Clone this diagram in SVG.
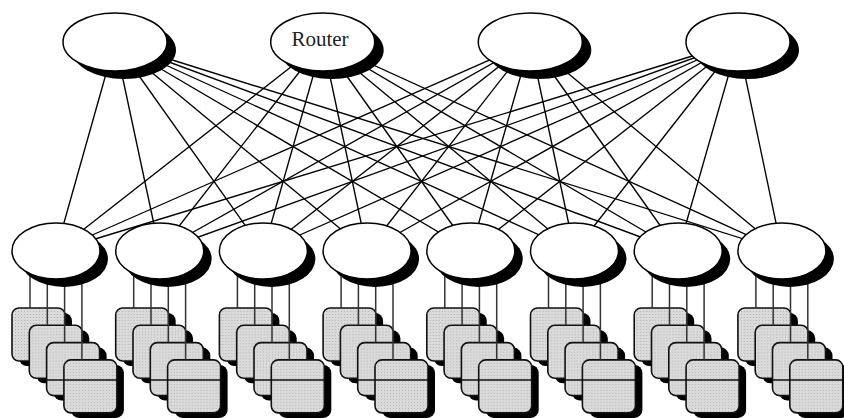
<svg xmlns="http://www.w3.org/2000/svg" width="844" height="418" viewBox="0 0 844 418">
  <style>
    .shadow { fill: #000; stroke: none; }
    .node { fill: #fff; stroke: #000; stroke-width: 1.5; }
    .link { stroke: #000; stroke-width: 1.35; fill: none; }
    .drop { stroke: #333; stroke-width: 1.5; fill: none; }
    .host { fill: url(#stipple); stroke: #111; stroke-width: 1.6; }
    .label { font-family: "Liberation Serif", "Times New Roman", serif; font-size: 21px; fill: #222; }
  </style>
  <defs>
    <!-- light grey dotted fill for the host boxes -->
    <pattern id="stipple" width="3" height="3" patternUnits="userSpaceOnUse">
      <rect width="3" height="3" fill="#dadada"/>
      <rect width="1" height="1" fill="#b4b4b4"/>
    </pattern>
    <!-- one host: black drop shadow, then the grey rounded box -->
    <g id="host">
      <rect class="shadow" x="7" y="5" width="53" height="53" rx="8"/>
      <rect class="host" x="0" y="0" width="53" height="53" rx="7"/>
    </g>
    <!-- four hosts stacked diagonally under a switch -->
    <g id="stack">
      <use href="#host" x="-44" y="308"/>
      <use href="#host" x="-26.7" y="325.3"/>
      <use href="#host" x="-9.4" y="342.6"/>
      <use href="#host" x="7.9" y="359.9"/>
      <line x1="-9.4" y1="380" x2="60.9" y2="380" stroke="#111" stroke-width="1.3"/>
    </g>
    <g id="switch">
      <ellipse class="shadow" cx="8" cy="259" rx="44" ry="28"/>
      <ellipse class="node" cx="0" cy="251" rx="44" ry="28"/>
    </g>
    <g id="router">
      <ellipse class="shadow" cx="9" cy="50" rx="52" ry="29"/>
      <ellipse class="node" cx="0" cy="42" rx="52" ry="29"/>
    </g>
    <!-- four links from a switch down to its hosts -->
    <g id="drops">
      <line class="drop" x1="-26" y1="260" x2="-26" y2="308"/>
      <line class="drop" x1="-8.7" y1="260" x2="-8.7" y2="325.3"/>
      <line class="drop" x1="8.6" y1="260" x2="8.6" y2="342.6"/>
      <line class="drop" x1="25.9" y1="260" x2="25.9" y2="359.9"/>
    </g>
  </defs>

  <!-- host stacks -->
  <g id="hosts-1"><use href="#stack" x="56"/></g>
  <g id="hosts-2"><use href="#stack" x="159.7"/></g>
  <g id="hosts-3"><use href="#stack" x="263.4"/></g>
  <g id="hosts-4"><use href="#stack" x="367.1"/></g>
  <g id="hosts-5"><use href="#stack" x="470.8"/></g>
  <g id="hosts-6"><use href="#stack" x="574.5"/></g>
  <g id="hosts-7"><use href="#stack" x="678.2"/></g>
  <g id="hosts-8"><use href="#stack" x="781.9"/></g>

  <!-- connectors: full mesh between the routers and the switches, plus host drops -->
  <g id="connectors">
    <g class="link">
      <line x1="115" y1="42" x2="56" y2="251"/>
      <line x1="115" y1="42" x2="159.7" y2="251"/>
      <line x1="115" y1="42" x2="263.4" y2="251"/>
      <line x1="115" y1="42" x2="367.1" y2="251"/>
      <line x1="115" y1="42" x2="470.8" y2="251"/>
      <line x1="115" y1="42" x2="574.5" y2="251"/>
      <line x1="115" y1="42" x2="678.2" y2="251"/>
      <line x1="115" y1="42" x2="781.9" y2="251"/>
      <line x1="322.7" y1="42" x2="56" y2="251"/>
      <line x1="322.7" y1="42" x2="159.7" y2="251"/>
      <line x1="322.7" y1="42" x2="263.4" y2="251"/>
      <line x1="322.7" y1="42" x2="367.1" y2="251"/>
      <line x1="322.7" y1="42" x2="470.8" y2="251"/>
      <line x1="322.7" y1="42" x2="574.5" y2="251"/>
      <line x1="322.7" y1="42" x2="678.2" y2="251"/>
      <line x1="322.7" y1="42" x2="781.9" y2="251"/>
      <line x1="530.3" y1="42" x2="56" y2="251"/>
      <line x1="530.3" y1="42" x2="159.7" y2="251"/>
      <line x1="530.3" y1="42" x2="263.4" y2="251"/>
      <line x1="530.3" y1="42" x2="367.1" y2="251"/>
      <line x1="530.3" y1="42" x2="470.8" y2="251"/>
      <line x1="530.3" y1="42" x2="574.5" y2="251"/>
      <line x1="530.3" y1="42" x2="678.2" y2="251"/>
      <line x1="530.3" y1="42" x2="781.9" y2="251"/>
      <line x1="738" y1="42" x2="56" y2="251"/>
      <line x1="738" y1="42" x2="159.7" y2="251"/>
      <line x1="738" y1="42" x2="263.4" y2="251"/>
      <line x1="738" y1="42" x2="367.1" y2="251"/>
      <line x1="738" y1="42" x2="470.8" y2="251"/>
      <line x1="738" y1="42" x2="574.5" y2="251"/>
      <line x1="738" y1="42" x2="678.2" y2="251"/>
      <line x1="738" y1="42" x2="781.9" y2="251"/>
    </g>
    <use href="#drops" x="56"/>
    <use href="#drops" x="159.7"/>
    <use href="#drops" x="263.4"/>
    <use href="#drops" x="367.1"/>
    <use href="#drops" x="470.8"/>
    <use href="#drops" x="574.5"/>
    <use href="#drops" x="678.2"/>
    <use href="#drops" x="781.9"/>
  </g>

  <!-- routers -->
  <g id="router-1"><use href="#router" x="115"/></g>
  <g id="router-2"><use href="#router" x="322.7"/><text class="label" x="320" y="46" text-anchor="middle">Router</text></g>
  <g id="router-3"><use href="#router" x="530.3"/></g>
  <g id="router-4"><use href="#router" x="738"/></g>

  <!-- switches -->
  <g id="switch-1"><use href="#switch" x="56"/></g>
  <g id="switch-2"><use href="#switch" x="159.7"/></g>
  <g id="switch-3"><use href="#switch" x="263.4"/></g>
  <g id="switch-4"><use href="#switch" x="367.1"/></g>
  <g id="switch-5"><use href="#switch" x="470.8"/></g>
  <g id="switch-6"><use href="#switch" x="574.5"/></g>
  <g id="switch-7"><use href="#switch" x="678.2"/></g>
  <g id="switch-8"><use href="#switch" x="781.9"/></g>
</svg>
